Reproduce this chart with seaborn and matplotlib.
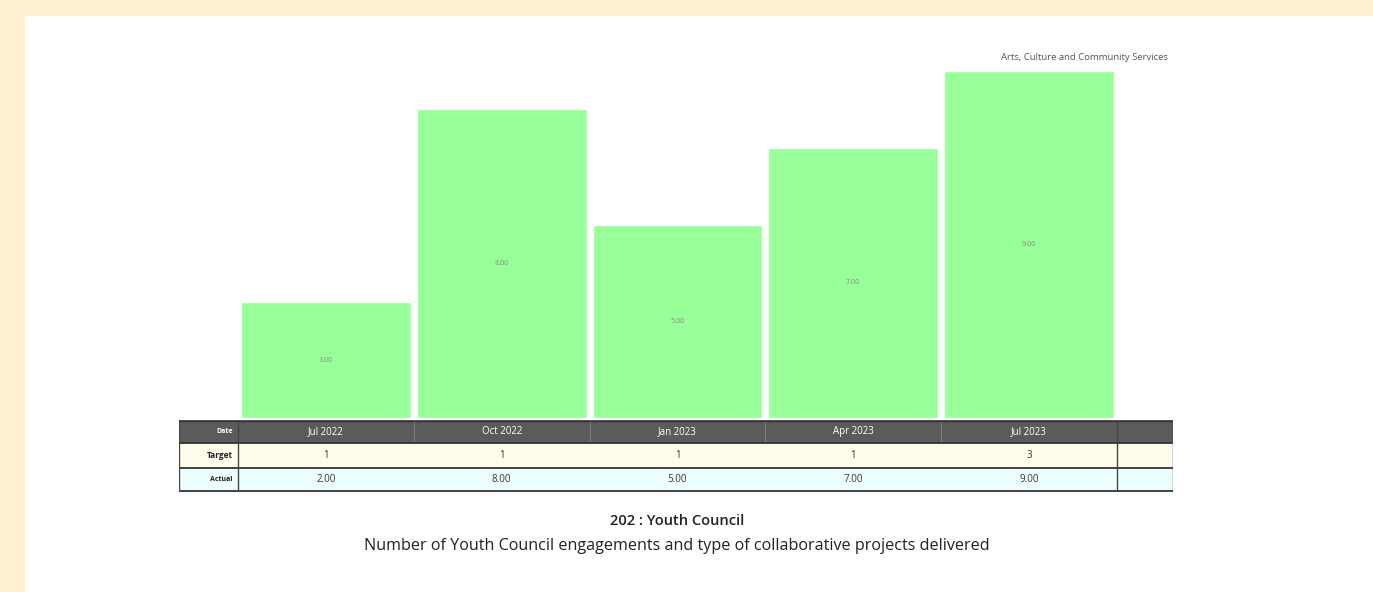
import numpy as np
import pandas as pd
import matplotlib
matplotlib.use("Agg")
import matplotlib.pyplot as plt
from matplotlib.patches import Rectangle
import seaborn as sns

# data
dates = ["Jul 2022", "Oct 2022", "Jan 2023", "Apr 2023", "Jul 2023"]
bar_values = [3, 8, 5, 7, 9]
target = ["1", "1", "1", "1", "3"]
actual = ["2.00", "8.00", "5.00", "7.00", "9.00"]

title = "202 : Youth Council"
subtitle = "Number of Youth Council engagements and type of collaborative projects delivered"
dept = "Arts, Culture and Community Services"

W, H = 1373, 592
sns.set_theme(style="white")
plt.rcParams['font.family'] = ['Open Sans', 'DejaVu Sans']


def box(x0, y0, x1, y1):
    """ pixel box (top-left origin) -> figure fraction rect """
    return [x0 / W, 1 - y1 / H, (x1 - x0) / W, (y1 - y0) / H]


fig = plt.figure(figsize=(W / 100, H / 100), dpi=100, facecolor='white')

# cream page margins
cream = '#fff1cf'
fig.patches.append(Rectangle((0, 1 - 15 / H), 1, 15 / H, transform=fig.transFigure,
                             color=cream, zorder=0))
fig.patches.append(Rectangle((0, 0), 24 / W, 1, transform=fig.transFigure,
                             color=cream, zorder=0))

# bars
df = pd.DataFrame({'date': dates, 'value': bar_values})
ax = fig.add_axes(box(238, 60, 1117, 418))
sns.barplot(data=df, x='date', y='value', color='#99ff99', saturation=1,
            width=0.965, ax=ax)
ax.set_xlim(-0.5, len(dates) - 0.5)
ax.set_ylim(0, 9.28)
ax.axis('off')
ax.bar_label(ax.containers[0], fmt='%.2f', label_type='center',
             fontsize=5.2, color='#8a8a8a')

fig.text(1168 / W, 1 - 58 / H, dept, ha='right', va='center',
         fontsize=6.8, color='#555555')

# data table under the bars
tx = fig.add_axes(box(179, 420, 1173, 492))
tx.set_xlim(179, 1173)
tx.set_ylim(492, 420)
tx.axis('off')

edges = np.linspace(238, 1117, len(dates) + 1)
rows = [(420, 443, '#5b5b5b'), (443, 468, '#fffcec'), (468, 491, '#ecfefe')]
for y0, y1, c in rows:
    tx.add_patch(Rectangle((179, y0), 1173 - 179, y1 - y0, color=c, lw=0))

# header separators
for e in edges[1:-1]:
    tx.plot([e, e], [420, 443], color='#7c7c7c', lw=0.8)
# row lines
for y in [443, 468, 491]:
    tx.plot([179, 1173], [y, y], color='#333333', lw=1.3)
tx.plot([179, 1173], [420.5, 420.5], color='#333333', lw=1.0)
for x in [179.5, 238, 1117, 1172.5]:
    tx.plot([x, x], [420, 491], color='#444444', lw=1.0)

tx.text(233, 431.5, 'Date', ha='right', va='center', fontsize=5,
        color='white', fontweight='bold')
tx.text(233, 455.5, 'Target', ha='right', va='center', fontsize=6,
        color='#222222', fontweight='bold')
tx.text(233, 479.5, 'Actual', ha='right', va='center', fontsize=5,
        color='#222222', fontweight='bold')

for i, d in enumerate(dates):
    cx = (edges[i] + edges[i + 1]) / 2
    tx.text(cx, 431.5, d, ha='center', va='center', fontsize=7, color='white',
            fontweight='medium')
    tx.text(cx, 455.5, target[i], ha='center', va='center', fontsize=7,
            color='#333333')
    tx.text(cx, 479.5, actual[i], ha='center', va='center', fontsize=7,
            color='#333333')

# titles
fig.text(677 / W, 1 - 521 / H, title, ha='center', va='center', fontsize=10.5,
         color='#222222', fontweight='semibold')
fig.text(677 / W, 1 - 546 / H, subtitle, ha='center', va='center',
         fontsize=11.6, color='#222222', fontweight='medium')

fig.savefig('out.png', dpi=100, facecolor='white')
